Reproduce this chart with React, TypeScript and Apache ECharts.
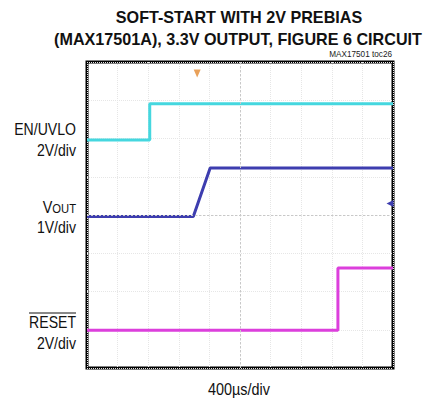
import React, { useEffect, useRef } from "react";
import * as echarts from "echarts";

// Time axis: 10 divisions of 400 µs
const timeDivUs = 400;
const timeDivs = 10;
const vertDivs = 8;

// EN/UVLO trace (2V/div)
const enTimes = [0, 820, 820, 4000];
const enVolts = [0, 0, 1.9, 1.9];
const enOffsetDiv = 5.96;
const enVPerDiv = 2;

// VOUT trace (1V/div), 2V prebias
const voutTimes = [0, 1390, 1610, 4000];
const voutVolts = [2.0, 2.0, 3.27, 3.27];
const voutOffsetDiv = 1.96;
const voutVPerDiv = 1;

// RESET trace (2V/div)
const resetTimes = [0, 3280, 3280, 4000];
const resetVolts = [0, 0, 3.25, 3.25];
const resetOffsetDiv = 0.99;
const resetVPerDiv = 2;

// scope markers
const triggerMarker = [1440, 7.7];
const levelMarker = [4000, 4.3];

const FONT = "'Liberation Sans', Arial, sans-serif";

function toDiv(times: number[], volts: number[], offset: number, vpd: number) {
  return times.map((t, i) => [t, offset + volts[i] / vpd]);
}

export default function App() {
  const ref = useRef<HTMLDivElement>(null);
  useEffect(() => {
    if (!ref.current) return;
    const chart = echarts.init(ref.current, null, { renderer: "svg" });
    const gridLeft = 87, gridTop = 62, gridW = 306, gridH = 306;
    const labelX = 76;
    const lbl = (text: string, y: number, sx = 0.88) => ({
      type: "text", x: labelX, y, scaleX: sx,
      style: { text, font: `16px ${FONT}`, fill: "#111", textAlign: "right", textVerticalAlign: "middle" },
    });
    chart.setOption({
      animation: false,
      backgroundColor: "#ffffff",
      grid: {
        left: gridLeft, top: gridTop, width: gridW, height: gridH,
        show: true, borderColor: "#000", borderWidth: 3, backgroundColor: "#fff",
      },
      xAxis: {
        type: "value", min: 0, max: timeDivUs * timeDivs, interval: timeDivUs,
        axisLabel: { show: false }, axisTick: { show: false }, axisLine: { show: false },
        splitLine: { show: true, lineStyle: { color: "#e6e6e6", type: "dotted", width: 1 } },
      },
      yAxis: {
        type: "value", min: 0, max: vertDivs, interval: 1,
        axisLabel: { show: false }, axisTick: { show: false }, axisLine: { show: false },
        splitLine: { show: true, lineStyle: { color: "#e6e6e6", type: "dotted", width: 1 } },
      },
      series: [
        {
          type: "line", data: [], silent: true,
          markLine: {
            silent: true, symbol: "none", label: { show: false },
            lineStyle: { color: "#c8c8c8", type: [2, 2], width: 1 },
            data: [{ xAxis: (timeDivUs * timeDivs) / 2 }, { yAxis: vertDivs / 2 }],
          },
        },
        {
          name: "EN/UVLO", type: "line", data: toDiv(enTimes, enVolts, enOffsetDiv, enVPerDiv),
          showSymbol: false, lineStyle: { color: "#45d7df", width: 3 }, itemStyle: { color: "#45d7df" },
          markPoint: {
            silent: true, label: { show: false },
            data: [{ coord: triggerMarker, symbol: "triangle", symbolRotate: 180, symbolSize: [7, 8], itemStyle: { color: "#e9a15a" } }],
          },
        },
        {
          name: "VOUT", type: "line", data: toDiv(voutTimes, voutVolts, voutOffsetDiv, voutVPerDiv),
          showSymbol: false, lineStyle: { color: "#3d3daf", width: 3 }, itemStyle: { color: "#3d3daf" },
          markPoint: {
            silent: true, label: { show: false },
            data: [{ coord: levelMarker, symbol: "triangle", symbolRotate: 90, symbolSize: [7, 7], symbolOffset: [-3, 0], itemStyle: { color: "#3d3daf" } }],
          },
        },
        {
          name: "RESET", type: "line", data: toDiv(resetTimes, resetVolts, resetOffsetDiv, resetVPerDiv),
          showSymbol: false, lineStyle: { color: "#dc3fdc", width: 3 }, itemStyle: { color: "#dc3fdc" },
        },
      ],
      graphic: [
        { type: "text", x: 239, y: 17, scaleX: 0.95, style: { text: "SOFT-START WITH 2V PREBIAS", font: `bold 17px ${FONT}`, fill: "#111", textAlign: "center", textVerticalAlign: "middle" } },
        { type: "text", x: 238, y: 39, scaleX: 0.95, style: { text: "(MAX17501A), 3.3V OUTPUT, FIGURE 6 CIRCUIT", font: `bold 17px ${FONT}`, fill: "#111", textAlign: "center", textVerticalAlign: "middle" } },
        { type: "text", x: 392, y: 54, scaleX: 0.91, style: { text: "MAX17501 toc26", font: `9px ${FONT}`, fill: "#222", textAlign: "right", textVerticalAlign: "middle" } },
        lbl("EN/UVLO", 129),
        lbl("2V/div", 150),
        {
          type: "text", x: labelX, y: 207, scaleX: 0.9,
          style: {
            text: "{v|V}{s|OUT}", textAlign: "right", textVerticalAlign: "middle", fill: "#111",
            rich: { v: { font: `16px ${FONT}`, fill: "#111" }, s: { font: `12.5px ${FONT}`, fill: "#111", verticalAlign: "bottom" } },
          },
        },
        lbl("1V/div", 227),
        lbl("RESET", 322),
        { type: "line", shape: { x1: 29, y1: 313, x2: 76, y2: 313 }, style: { stroke: "#111", lineWidth: 1 } },
        lbl("2V/div", 343),
        { type: "text", x: 239, y: 389, scaleX: 0.9, style: { text: "400µs/div", font: `16px ${FONT}`, fill: "#111", textAlign: "center", textVerticalAlign: "middle" } },
      ],
    });
    return () => chart.dispose();
  }, []);
  return <div ref={ref} style={{ position: "fixed", left: 0, top: 0, width: 429, height: 401 }} />;
}
